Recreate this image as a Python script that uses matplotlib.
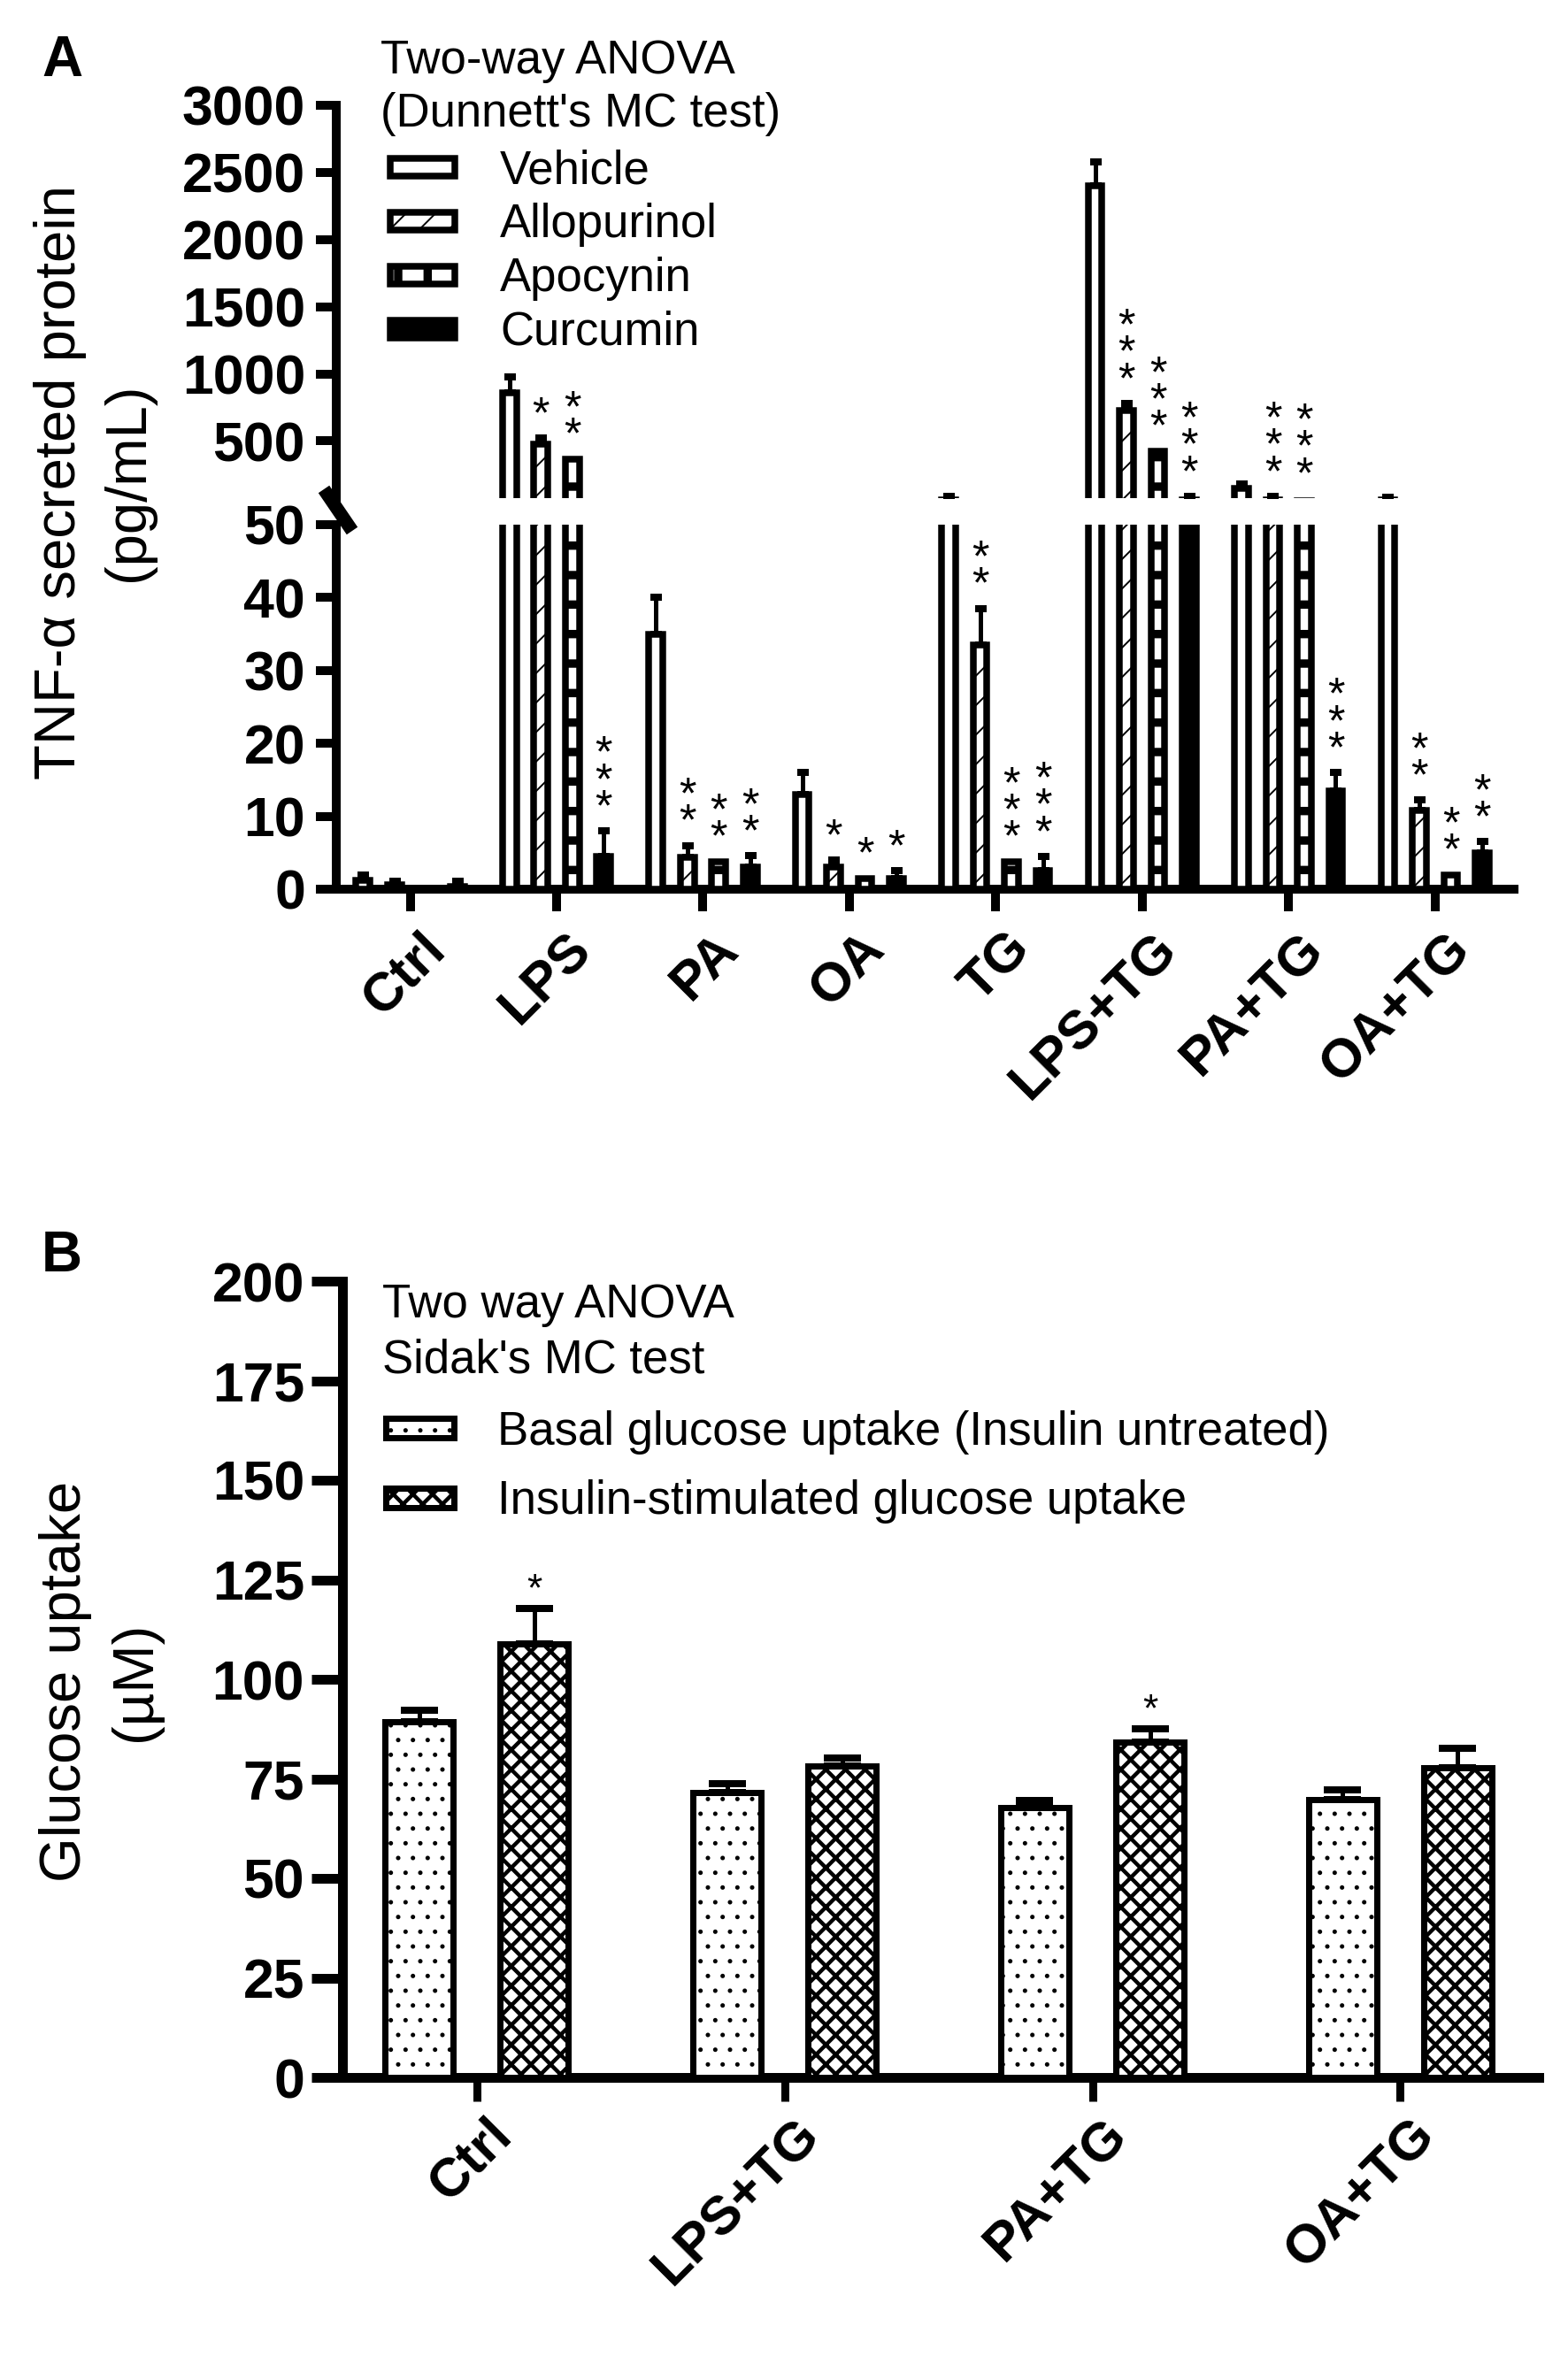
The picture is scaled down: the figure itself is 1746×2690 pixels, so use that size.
import numpy as np
import matplotlib
matplotlib.use("Agg")
import matplotlib.pyplot as plt
import matplotlib.transforms as mtransforms
from matplotlib.patches import Rectangle
from matplotlib.lines import Line2D

plt.rcParams['font.family'] = ['Liberation Sans', 'DejaVu Sans']

# ---------------- data: panel A ----------------
groups_a = ["Ctrl", "LPS", "PA", "OA", "TG", "LPS+TG", "PA+TG", "OA+TG"]
treatments_a = ["Vehicle", "Allopurinol", "Apocynin", "Curcumin"]
vehicle = [1.2, 860, 35.0, 13.0, 62, 2400, 150, 60]
vehicle_err = [0.8, 120, 5.0, 3.0, 26, 180, 31, 22]
allopurinol = [0.6, 480, 4.4, 3.0, 33.5, 730, 60, 10.8]
allopurinol_err = [0.5, 40, 1.6, 1.0, 5.0, 50, 28, 1.4]
apocynin = [0.1, 366, 3.8, 1.5, 3.8, 425, 55, 2.0]
apocynin_err = [0, 0, 0, 0, 0, 0, 0, 0]
curcumin = [0.4, 4.5, 3.0, 1.5, 2.5, 60, 13.5, 5.0]
curcumin_err = [0.7, 3.5, 1.6, 1.0, 2.0, 28, 2.5, 1.5]
stars_vehicle = ["", "", "", "", "", "", "", ""]
stars_allopurinol = ["", "*", "**", "*", "**", "***", "***", "**"]
stars_apocynin = ["", "**", "**", "*", "***", "***", "***", "**"]
stars_curcumin = ["", "***", "**", "*", "***", "***", "***", "**"]
yticks_upper = [500, 1000, 1500, 2000, 2500, 3000]
yticks_lower = [0, 10, 20, 30, 40, 50]
ylabel_a = ["TNF-\u03b1 secreted protein", "(pg/mL)"]
legend_title_a = ["Two-way ANOVA", "(Dunnett's MC test)"]

# ---------------- data: panel B ----------------
groups_b = ["Ctrl", "LPS+TG", "PA+TG", "OA+TG"]
series_b = ["Basal glucose uptake (Insulin untreated)", "Insulin-stimulated glucose uptake"]
basal = [89.3, 71.5, 67.8, 69.7]
basal_err = [2.9, 2.2, 1.7, 2.5]
insulin = [109.0, 78.3, 84.3, 77.7]
insulin_err = [8.8, 2.0, 3.2, 5.0]
stars_basal = ["", "", "", ""]
stars_insulin = ["*", "", "*", ""]
yticks_b = [0, 25, 50, 75, 100, 125, 150, 175, 200]
ylabel_b = ["Glucose uptake", "(\u00b5M)"]
legend_title_b = ["Two way ANOVA", "Sidak's MC test"]

# ---------------- layout helpers ----------------
W, H, DPI = 1746, 2690, 200
PX = 72.0 / DPI  # points per pixel

fig = plt.figure(figsize=(W / DPI, H / DPI), dpi=DPI)
fig.patch.set_facecolor("white")


def ax_rect(x0, y_top, x1, y_bot):
    return [x0 / W, 1 - y_bot / H, (x1 - x0) / W, (y_bot - y_top) / H]


def fx(x):
    return x / W


def fy(y):
    return 1 - y / H


def make_bars(ax, xs, vals, errs, fc, hatch, hlw, width, lw, cap_w, cap_t, el_w):
    plt.rcParams['hatch.linewidth'] = hlw
    bars = ax.bar(xs, vals, width=width, color=fc, edgecolor="black",
                  linewidth=lw * PX, hatch=hatch, zorder=3)
    for b in bars:
        if hasattr(b, "set_hatch_linewidth"):
            b.set_hatch_linewidth(hlw)
    errs = np.asarray(errs, dtype=float)
    vals = np.asarray(vals, dtype=float)
    m = errs > 0
    if m.any():
        ax.errorbar(np.asarray(xs)[m], vals[m], yerr=[np.zeros(m.sum()), errs[m]],
                    fmt="none", ecolor="black", elinewidth=el_w * PX,
                    capsize=cap_w / 2 * PX, capthick=cap_t * PX, zorder=2)
    return bars


# ================= PANEL A =================
ax_up = fig.add_axes(ax_rect(380, 119, 1711, 563))
ax_lo = fig.add_axes(ax_rect(380, 593, 1711, 1005))

xa = np.arange(len(groups_a))
offs_a = np.array([-1.5, -0.5, 0.5, 1.5]) * 0.2146
bw_a = 0.095
series_a = [
    (vehicle, vehicle_err, "white", None, 1.0, stars_vehicle),
    (allopurinol, allopurinol_err, "white", "//", 0.7, stars_allopurinol),
    (apocynin, apocynin_err, "white", "-", 3.4, stars_apocynin),
    (curcumin, curcumin_err, "black", None, 1.0, stars_curcumin),
]
UP_MIN = 75
for ax in (ax_up, ax_lo):
    for k, (vals, errs, fc, hatch, hlw, st) in enumerate(series_a):
        make_bars(ax, xa + offs_a[k], vals, errs, fc, hatch, hlw, bw_a, 7.5, 13, 8, 5)

# significance stars panel A (stacked vertically, one star per line)
for k, (vals, errs, fc, hatch, hlw, st) in enumerate(series_a):
    for i, s in enumerate(st):
        if not s:
            continue
        top = vals[i] + errs[i]
        if top > 50:
            ax_t, yy = ax_up, max(top, UP_MIN)
        else:
            ax_t, yy = ax_lo, top
        ax_t.annotate("\n".join(s), xy=(xa[i] + offs_a[k], yy), xytext=(0, 2 * PX),
                      textcoords="offset points", ha="center", va="bottom",
                      multialignment="center", linespacing=0.56,
                      fontsize=18, annotation_clip=False, zorder=5)

ax_up.set_ylim(UP_MIN, 3000)
ax_lo.set_ylim(0, 50)
for ax in (ax_up, ax_lo):
    ax.set_xlim(-0.505, 7.54)
    ax.spines["top"].set_visible(False)
    ax.spines["right"].set_visible(False)
    ax.spines["left"].set_linewidth(10 * PX)
    ax.spines["left"].set_capstyle("projecting")
    ax.spines["bottom"].set_linewidth(10 * PX)
    ax.spines["bottom"].set_capstyle("projecting")
    ax.tick_params(axis="y", length=23 * PX, width=10 * PX, pad=12 * PX)
    ax.patch.set_alpha(0)
ax_up.spines["bottom"].set_visible(False)
ax_up.tick_params(axis="x", bottom=False, labelbottom=False)
ax_up.set_yticks(yticks_upper)
ax_up.set_yticklabels([str(t) for t in yticks_upper], fontweight="bold", fontsize=22.5)
ax_lo.set_yticks(yticks_lower)
ax_lo.set_yticklabels([str(t) for t in yticks_lower], fontweight="bold", fontsize=22.5)
ax_lo.set_xticks(xa)
ax_lo.set_xticklabels(groups_a, fontweight="bold", fontsize=22, rotation=45,
                      ha="right", va="top", rotation_mode="anchor")
ax_lo.tick_params(axis="x", length=25 * PX, width=10 * PX, pad=14 * PX)

# axis break mark
fig.add_artist(Line2D([fx(366), fx(398)], [fy(553), fy(600)], transform=fig.transFigure,
                      color="black", lw=15 * PX, solid_capstyle="butt", zorder=10))

# y label panel A
fig.text(fx(68), fy(545), ylabel_a[0], rotation=90, ha="center", va="center", fontsize=23.5)
fig.text(fx(145), fy(545), ylabel_a[1], rotation=90, ha="center", va="center", fontsize=23.5)
fig.text(fx(47), fy(86), "A", fontweight="bold", fontsize=23, ha="left", va="baseline")

# legend panel A
fig.text(fx(430), fy(83), legend_title_a[0], fontsize=19, ha="left", va="baseline")
fig.text(fx(430), fy(143), legend_title_a[1], fontsize=19, ha="left", va="baseline")
leg_a_style = [("white", None, 1.0), ("white", "//", 0.7), ("white", "|", 3.4), ("black", None, 1.0)]
for j, (name, (fc, hatch, hlw)) in enumerate(zip(treatments_a, leg_a_style)):
    cy = 189 + 61 * j
    plt.rcParams['hatch.linewidth'] = hlw
    r = Rectangle((fx(441), fy(cy + 9.5)), (514 - 441) / W, 19 / H, transform=fig.transFigure,
                  facecolor=fc, edgecolor="black", linewidth=7.5 * PX, hatch=hatch)
    if hasattr(r, "set_hatch_linewidth"):
        r.set_hatch_linewidth(hlw)
    fig.add_artist(r)
    fig.text(fx(565), fy(cy + 18), name, fontsize=19, ha="left", va="baseline")

# ================= PANEL B =================
ax_b = fig.add_axes(ax_rect(387, 1448, 1739, 2348))
xb = np.arange(len(groups_b))
offs_b = [-0.187, 0.187]
bw_b = 0.221
series_bb = [
    (basal, basal_err, "white", "..", 0.6, stars_basal),
    (insulin, insulin_err, "white", "xxx", 1.6, stars_insulin),
]
for k, (vals, errs, fc, hatch, hlw, st) in enumerate(series_bb):
    make_bars(ax_b, xb + offs_b[k], vals, errs, fc, hatch, hlw, bw_b, 7, 43, 8, 5)
    for i, s in enumerate(st):
        if s:
            ax_b.annotate(s, xy=(xb[i] + offs_b[k], vals[i] + errs[i]), xytext=(0, 0),
                          textcoords="offset points", ha="center", va="bottom",
                          fontsize=16, zorder=5)

ax_b.set_xlim(-0.436, 3.45)
ax_b.set_ylim(0, 200)
ax_b.spines["top"].set_visible(False)
ax_b.spines["right"].set_visible(False)
for s in ("left", "bottom"):
    ax_b.spines[s].set_linewidth(11 * PX)
    ax_b.spines[s].set_capstyle("projecting")
ax_b.set_yticks(yticks_b)
ax_b.set_yticklabels([str(t) for t in yticks_b], fontweight="bold", fontsize=22.5)
ax_b.tick_params(axis="y", length=35 * PX, width=11 * PX, pad=8 * PX)
ax_b.set_xticks(xb)
ax_b.set_xticklabels(groups_b, fontweight="bold", fontsize=22, rotation=45,
                     ha="right", va="top", rotation_mode="anchor")
ax_b.tick_params(axis="x", length=27 * PX, width=9 * PX, pad=9 * PX)

fig.text(fx(74), fy(1900), ylabel_b[0], rotation=90, ha="center", va="center", fontsize=23.5)
fig.text(fx(153), fy(1900), ylabel_b[1], rotation=90, ha="center", va="center", fontsize=23.5)
fig.text(fx(47), fy(1437), "B", fontweight="bold", fontsize=23, ha="left", va="baseline")

fig.text(fx(432), fy(1489), legend_title_b[0], fontsize=19, ha="left", va="baseline")
fig.text(fx(432), fy(1551), legend_title_b[1], fontsize=19, ha="left", va="baseline")
leg_b_style = [("white", "..", 0.6), ("white", "xxx", 1.6)]
for j, (name, (fc, hatch, hlw)) in enumerate(zip(series_b, leg_b_style)):
    cy = 1614.5 + 78 * j
    plt.rcParams['hatch.linewidth'] = hlw
    r = Rectangle((fx(435.5), fy(cy + 11)), (512.5 - 435.5) / W, 22 / H, transform=fig.transFigure,
                  facecolor=fc, edgecolor="black", linewidth=7 * PX, hatch=hatch)
    if hasattr(r, "set_hatch_linewidth"):
        r.set_hatch_linewidth(hlw)
    fig.add_artist(r)
    fig.text(fx(562), fy(cy + 18), name, fontsize=19, ha="left", va="baseline")

# shift rotated x tick labels slightly right (as in the original)
shift = mtransforms.ScaledTranslation(11 / DPI, 0, fig.dpi_scale_trans)
for ax in (ax_lo, ax_b):
    for lab in ax.get_xticklabels():
        lab.set_transform(lab.get_transform() + shift)

fig.savefig("out.png", dpi=DPI, facecolor="white")
